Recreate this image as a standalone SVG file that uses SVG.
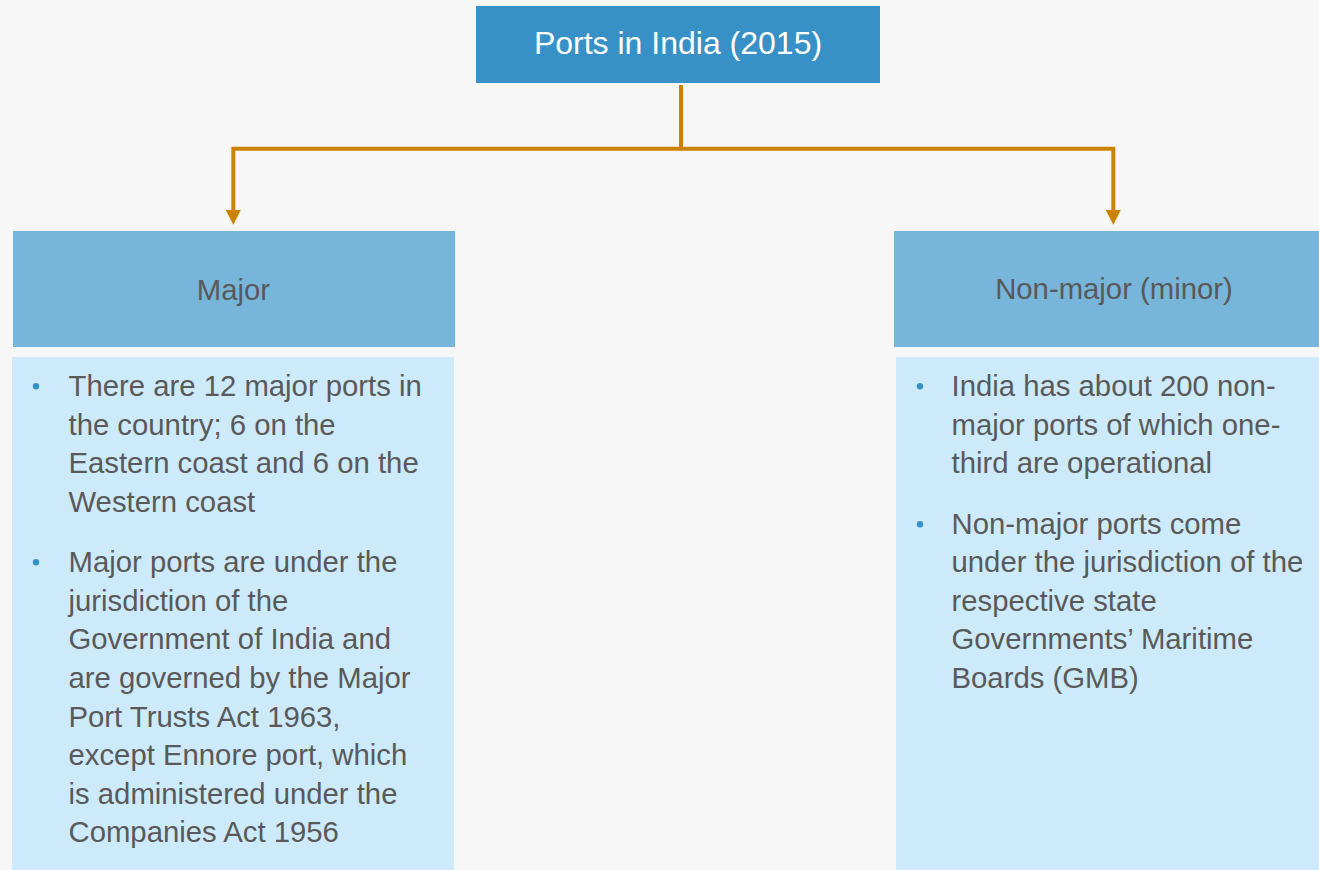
<svg xmlns="http://www.w3.org/2000/svg" width="1319" height="870" viewBox="0 0 1319 870">
<style>
.bg{fill:#f7f7f7}
.top{fill:#3891c6}
.hdr{fill:#77b5da}
.body{fill:#cdeafb}
.t{font-family:"Liberation Sans",Arial,sans-serif;font-size:29.3px;fill:#595959}
.title{font-family:"Liberation Sans",Arial,sans-serif;font-size:32px;fill:#ffffff}
.dot{fill:#3891c6}
.conn{fill:none;stroke:#cc8400;stroke-width:4;stroke-linejoin:miter}
</style>
<defs>
<marker id="arr" markerUnits="userSpaceOnUse" markerWidth="15" markerHeight="15" viewBox="0 0 15 15" refX="0" refY="7.5" orient="auto">
<path d="M0,0 L15,7.5 L0,15 z" fill="#cc8400"/>
</marker>
</defs>
<rect class="bg" x="0" y="0" width="1319" height="870"/>
<g id="connectors">
<path class="conn" d="M681,85 V148.7"/>
<path class="conn" d="M681,148.7 H233.3 V210" marker-end="url(#arr)"/>
<path class="conn" d="M681,148.7 H1113.3 V210" marker-end="url(#arr)"/>
</g>
<g id="node-root">
<rect class="top" x="476" y="6" width="404" height="77"/>
<text class="title" x="678" y="53.5" text-anchor="middle">Ports in India (2015)</text>
</g>
<g id="node-major">
<rect class="hdr" x="13" y="231" width="442" height="116"/>
<text class="t" x="233.5" y="300" text-anchor="middle">Major</text>
</g>
<g id="node-major-details">
<rect class="body" x="12" y="357" width="442" height="513"/>
<circle class="dot" cx="36" cy="386.3" r="3.2"/>
<text class="t" x="68.5" y="396">There are 12 major ports in</text>
<text class="t" x="68.5" y="434.5">the country; 6 on the</text>
<text class="t" x="68.5" y="473">Eastern coast and 6 on the</text>
<text class="t" x="68.5" y="511.5">Western coast</text>
<circle class="dot" cx="36" cy="562.3" r="3.2"/>
<text class="t" x="68.5" y="572">Major ports are under the</text>
<text class="t" x="68.5" y="610.5">jurisdiction of the</text>
<text class="t" x="68.5" y="649">Government of India and</text>
<text class="t" x="68.5" y="687.5">are governed by the Major</text>
<text class="t" x="68.5" y="726.5">Port Trusts Act 1963,</text>
<text class="t" x="68.5" y="765">except Ennore port, which</text>
<text class="t" x="68.5" y="803.5">is administered under the</text>
<text class="t" x="68.5" y="842">Companies Act 1956</text>
</g>
<g id="node-minor">
<rect class="hdr" x="894" y="231" width="425" height="116"/>
<text class="t" x="1114" y="299" text-anchor="middle">Non-major (minor)</text>
</g>
<g id="node-minor-details">
<rect class="body" x="896" y="357" width="423" height="513"/>
<circle class="dot" cx="920" cy="386.3" r="3.2"/>
<text class="t" x="951.5" y="396">India has about 200 non-</text>
<text class="t" x="951.5" y="434.5">major ports of which one-</text>
<text class="t" x="951.5" y="473">third are operational</text>
<circle class="dot" cx="920" cy="524.3" r="3.2"/>
<text class="t" x="951.5" y="533.5">Non-major ports come</text>
<text class="t" x="951.5" y="572">under the jurisdiction of the</text>
<text class="t" x="951.5" y="610.5">respective state</text>
<text class="t" x="951.5" y="649">Governments’ Maritime</text>
<text class="t" x="951.5" y="687.5">Boards (GMB)</text>
</g>
</svg>
